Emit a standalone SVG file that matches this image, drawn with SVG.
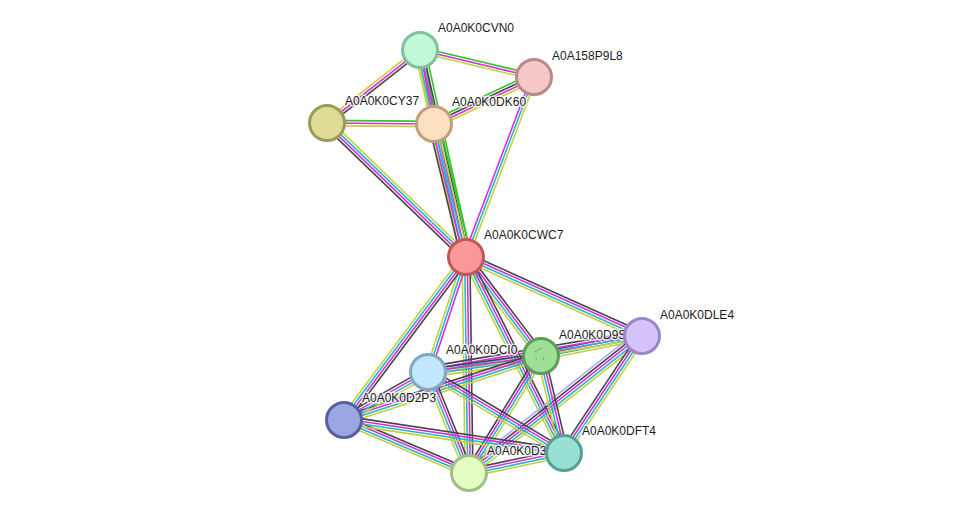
<svg xmlns="http://www.w3.org/2000/svg" width="976" height="519" viewBox="0 0 976 519">
<style>
#edges line{stroke-width:1.6;fill:none}
.k{stroke:#454545}.m{stroke:#d830d8}.c{stroke:#25b3df}.y{stroke:#bfd333}.g{stroke:#2fc42f}.l{stroke:#a9a9fb}
.node circle{stroke-width:3}
.node text{font-family:"Liberation Sans",Arial,sans-serif;font-size:12px;fill:#1c1c1c;stroke:#fff;stroke-width:3;stroke-opacity:0.75;paint-order:stroke;stroke-linejoin:round}
</style>
<rect width="976" height="519" fill="#fff"/>
<g id="edges">
<!-- A-B -->
<g transform="translate(420 50) rotate(13.32)"><line class="g" x2="117.2" y1="-2.6" y2="-2.6"/><line class="m" x2="117.2"/><line class="y" x2="117.2" y1="2.6" y2="2.6"/></g>
<!-- C-A -->
<g transform="translate(327 123) rotate(-38.13)"><line class="y" x2="118.2" y1="-2.6" y2="-2.6"/><line class="m" x2="118.2"/><line class="k" x2="118.2" y1="2.6" y2="2.6"/></g>
<!-- C-D -->
<g transform="translate(327 123) rotate(0.54)"><line class="g" x2="107" y1="-2.6" y2="-2.6"/><line class="m" x2="107"/><line class="y" x2="107" y1="2.6" y2="2.6"/></g>
<!-- D-B -->
<g transform="translate(434 124) rotate(-25.17)"><line class="g" x2="110.5" y1="-3.9" y2="-3.9"/><line class="k" x2="110.5" y1="-1.3" y2="-1.3"/><line class="m" x2="110.5" y1="1.3" y2="1.3"/><line class="y" x2="110.5" y1="3.9" y2="3.9"/></g>
<!-- E-B -->
<g transform="translate(466 257) rotate(-69.3)"><line class="m" x2="192.4" y1="-2.6" y2="-2.6"/><line class="c" x2="192.4"/><line class="y" x2="192.4" y1="2.6" y2="2.6"/></g>
<!-- C-E -->
<g transform="translate(327 123) rotate(43.95)"><line class="y" x2="193.1" y1="-3.9" y2="-3.9"/><line class="c" x2="193.1" y1="-1.3" y2="-1.3"/><line class="m" x2="193.1" y1="1.3" y2="1.3"/><line class="k" x2="193.1" y1="3.9" y2="3.9"/></g>
<!-- A-D -->
<g transform="translate(420 50) rotate(79.3)"><line class="g" x2="75.3" y1="-2.6" y2="-2.6"/><line class="m" x2="75.3"/><line class="y" x2="75.3" y1="2.6" y2="2.6"/></g>
<!-- A-E -->
<g transform="translate(420 50) rotate(77.47)"><line class="g" x2="212" y1="-5.2" y2="-5.2"/><line class="k" x2="212" y1="-2.6" y2="-2.6"/><line class="m" x2="212"/><line class="c" x2="212" y1="2.6" y2="2.6"/><line class="y" x2="212" y1="5.2" y2="5.2"/></g>
<!-- D-E -->
<g transform="translate(434 124) rotate(76.47)"><line class="g" x2="136.8" y1="-5.2" y2="-5.2"/><line class="y" x2="136.8" y1="-2.6" y2="-2.6"/><line class="c" x2="136.8"/><line class="m" x2="136.8" y1="2.6" y2="2.6"/><line class="k" x2="136.8" y1="5.2" y2="5.2"/></g>
<!-- E-F -->
<g transform="translate(466 257) rotate(24.17)"><line class="k" x2="192.9" y1="-3.9" y2="-3.9"/><line class="m" x2="192.9" y1="-1.3" y2="-1.3"/><line class="c" x2="192.9" y1="1.3" y2="1.3"/><line class="y" x2="192.9" y1="3.9" y2="3.9"/></g>
<!-- E-G -->
<g transform="translate(466 257) rotate(52.85)"><line class="k" x2="124.2" y1="-3.9" y2="-3.9"/><line class="m" x2="124.2" y1="-1.3" y2="-1.3"/><line class="c" x2="124.2" y1="1.3" y2="1.3"/><line class="y" x2="124.2" y1="3.9" y2="3.9"/></g>
<!-- E-K -->
<g transform="translate(466 257) rotate(63.43)"><line class="k" x2="219.1" y1="-3.9" y2="-3.9"/><line class="m" x2="219.1" y1="-1.3" y2="-1.3"/><line class="c" x2="219.1" y1="1.3" y2="1.3"/><line class="y" x2="219.1" y1="3.9" y2="3.9"/></g>
<!-- E-J -->
<g transform="translate(466 257) rotate(89.2)"><line class="k" x2="216" y1="-3.9" y2="-3.9"/><line class="m" x2="216" y1="-1.3" y2="-1.3"/><line class="c" x2="216" y1="1.3" y2="1.3"/><line class="y" x2="216" y1="3.9" y2="3.9"/></g>
<!-- H-E -->
<g transform="translate(428 372) rotate(-71.7)"><line class="y" x2="121.1" y1="-2.6" y2="-2.6"/><line class="c" x2="121.1"/><line class="m" x2="121.1" y1="2.6" y2="2.6"/></g>
<!-- I-E -->
<g transform="translate(344 420) rotate(-53.2)"><line class="y" x2="203.6" y1="-3.9" y2="-3.9"/><line class="c" x2="203.6" y1="-1.3" y2="-1.3"/><line class="m" x2="203.6" y1="1.3" y2="1.3"/><line class="k" x2="203.6" y1="3.9" y2="3.9"/></g>
<!-- G-F -->
<g transform="translate(541 356) rotate(-11.2)"><line class="k" x2="103" y1="-3.9" y2="-3.9"/><line class="m" x2="103" y1="-1.3" y2="-1.3"/><line class="c" x2="103" y1="1.3" y2="1.3"/><line class="y" x2="103" y1="3.9" y2="3.9"/></g>
<!-- H-F -->
<g transform="translate(428 372) rotate(-9.55)"><line class="k" x2="217" y1="-5.2" y2="-5.2"/><line class="m" x2="217" y1="-2.6" y2="-2.6"/><line class="c" x2="217" y1="0" y2="0"/><line class="y" x2="217" y1="2.6" y2="2.6"/></g>
<!-- H-G -->
<g transform="translate(428 372) rotate(-8.06)"><line class="k" x2="114.1" y1="-2.6" y2="-2.6"/><line class="m" x2="114.1" y1="0" y2="0"/><line class="c" x2="114.1" y1="2.6" y2="2.6"/><line class="y" x2="114.1" y1="5.2" y2="5.2"/></g>
<!-- J-F -->
<g transform="translate(469 473) rotate(-38.37)"><line class="l" x2="220.7" y1="-6.5" y2="-6.5"/><line class="k" x2="220.7" y1="-3.9" y2="-3.9"/><line class="m" x2="220.7" y1="-1.3" y2="-1.3"/><line class="c" x2="220.7" y1="1.3" y2="1.3"/><line class="y" x2="220.7" y1="3.9" y2="3.9"/></g>
<!-- K-F -->
<g transform="translate(564 453) rotate(-56.31)"><line class="k" x2="140.6" y1="-3.9" y2="-3.9"/><line class="m" x2="140.6" y1="-1.3" y2="-1.3"/><line class="c" x2="140.6" y1="1.3" y2="1.3"/><line class="y" x2="140.6" y1="3.9" y2="3.9"/></g>
<!-- G-K -->
<g transform="translate(541 356) rotate(76.66)"><line class="k" x2="99.7" y1="-3.9" y2="-3.9"/><line class="m" x2="99.7" y1="-1.3" y2="-1.3"/><line class="c" x2="99.7" y1="1.3" y2="1.3"/><line class="y" x2="99.7" y1="3.9" y2="3.9"/></g>
<!-- J-G -->
<g transform="translate(469 473) rotate(-58.4)"><line class="k" x2="137.4" y1="-3.9" y2="-3.9"/><line class="m" x2="137.4" y1="-1.3" y2="-1.3"/><line class="c" x2="137.4" y1="1.3" y2="1.3"/><line class="y" x2="137.4" y1="3.9" y2="3.9"/></g>
<!-- I-G -->
<g transform="translate(344 420) rotate(-18)"><line class="k" x2="207.1" y1="-3.9" y2="-3.9"/><line class="m" x2="207.1" y1="-1.3" y2="-1.3"/><line class="c" x2="207.1" y1="1.3" y2="1.3"/><line class="y" x2="207.1" y1="3.9" y2="3.9"/></g>
<!-- I-H -->
<g transform="translate(344 420) rotate(-29.74)"><line class="k" x2="96.7" y1="-3.9" y2="-3.9"/><line class="m" x2="96.7" y1="-1.3" y2="-1.3"/><line class="c" x2="96.7" y1="1.3" y2="1.3"/><line class="y" x2="96.7" y1="3.9" y2="3.9"/></g>
<!-- H-J -->
<g transform="translate(428 372) rotate(67.9)"><line class="k" x2="109" y1="-3.9" y2="-3.9"/><line class="m" x2="109" y1="-1.3" y2="-1.3"/><line class="c" x2="109" y1="1.3" y2="1.3"/><line class="y" x2="109" y1="3.9" y2="3.9"/></g>
<!-- H-K -->
<g transform="translate(428 372) rotate(30.78)"><line class="k" x2="158.3" y1="-3.9" y2="-3.9"/><line class="m" x2="158.3" y1="-1.3" y2="-1.3"/><line class="c" x2="158.3" y1="1.3" y2="1.3"/><line class="y" x2="158.3" y1="3.9" y2="3.9"/></g>
<!-- I-J -->
<g transform="translate(344 420) rotate(22.98)"><line class="k" x2="135.8" y1="-3.9" y2="-3.9"/><line class="m" x2="135.8" y1="-1.3" y2="-1.3"/><line class="c" x2="135.8" y1="1.3" y2="1.3"/><line class="y" x2="135.8" y1="3.9" y2="3.9"/></g>
<!-- I-K -->
<g transform="translate(344 420) rotate(8.53)"><line class="k" x2="222.5" y1="-3.9" y2="-3.9"/><line class="m" x2="222.5" y1="-1.3" y2="-1.3"/><line class="c" x2="222.5" y1="1.3" y2="1.3"/><line class="y" x2="222.5" y1="3.9" y2="3.9"/></g>
<!-- J-K -->
<g transform="translate(469 473) rotate(-11.89)"><line class="k" x2="97.1" y1="-3.9" y2="-3.9"/><line class="m" x2="97.1" y1="-1.3" y2="-1.3"/><line class="c" x2="97.1" y1="1.3" y2="1.3"/><line class="y" x2="97.1" y1="3.9" y2="3.9"/></g>
</g>
<g id="A0A0K0CVN0" class="node"><circle cx="420" cy="50" r="17.5" fill="#c0f8d8" stroke="#80c0a0"/><text x="438" y="32">A0A0K0CVN0</text></g>
<g id="A0A158P9L8" class="node"><circle cx="534" cy="77" r="17.5" fill="#f7c8c8" stroke="#b98a8a"/><text x="552" y="60">A0A158P9L8</text></g>
<g id="A0A0K0CY37" class="node"><circle cx="327" cy="123" r="17.5" fill="#dfdc98" stroke="#9e9b58"/><text x="345" y="105">A0A0K0CY37</text></g>
<g id="A0A0K0DK60" class="node"><circle cx="434" cy="124" r="17.5" fill="#fde0c0" stroke="#c0a07e"/><text x="452" y="106">A0A0K0DK60</text></g>
<g id="A0A0K0CWC7" class="node"><circle cx="466" cy="257" r="17.5" fill="#fb9898" stroke="#c05858"/><text x="484" y="239">A0A0K0CWC7</text></g>
<g id="A0A0K0D2P3" class="node"><circle cx="344" cy="420" r="17.5" fill="#9ca6e2" stroke="#5860a0"/><text x="362" y="402">A0A0K0D2P3</text></g>
<g id="A0A0K0DCI0" class="node"><circle cx="428" cy="372" r="17.5" fill="#c2e6fb" stroke="#80a8c2"/><text x="446" y="354">A0A0K0DCI0</text></g>
<g id="A0A0K0D3" class="node"><circle cx="469" cy="473" r="17.5" fill="#e2fcc4" stroke="#a2be84"/><text x="487" y="455">A0A0K0D3</text></g>
<g id="A0A0K0D9S" class="node"><text x="559" y="339">A0A0K0D9S</text><circle cx="541" cy="356" r="17.5" fill="#9ee096" stroke="#5c9e58"/><path d="M534 352l8-4M535 358l2 1M543 360l1-3" stroke="#6a9a66" stroke-width="0.8" fill="none"/></g>
<g id="A0A0K0DFT4" class="node"><circle cx="564" cy="453" r="17.5" fill="#98dfd4" stroke="#58a096"/><text x="582" y="435">A0A0K0DFT4</text></g>
<g id="A0A0K0DLE4" class="node"><circle cx="642" cy="336" r="17.5" fill="#d4c4fb" stroke="#9a88c8"/><text x="660" y="319">A0A0K0DLE4</text></g>
</svg>
